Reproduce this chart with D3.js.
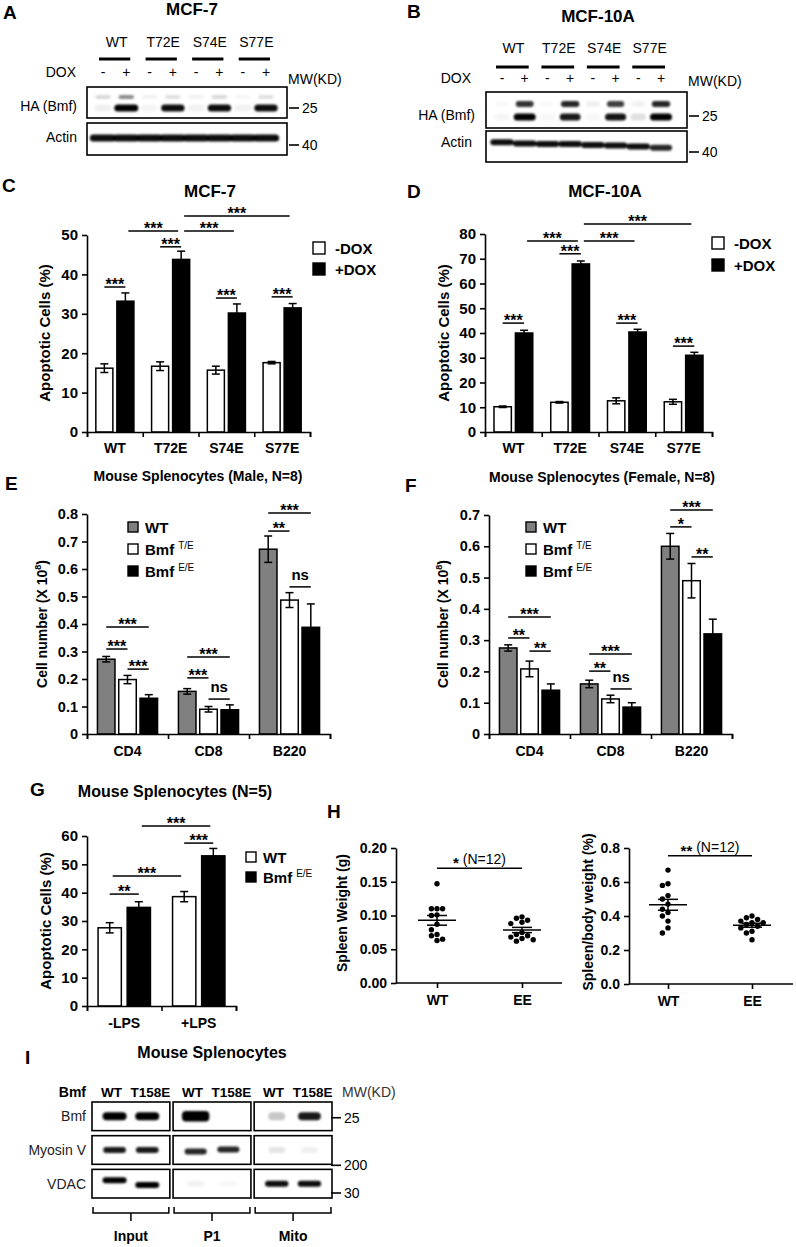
<!DOCTYPE html>
<html><head><meta charset="utf-8">
<script src="https://cdn.jsdelivr.net/npm/d3@7"></script>
<style>
body{margin:0;background:#fff}
svg{display:block}
text{font-family:"Liberation Sans",Arial,Helvetica,sans-serif}
</style>
</head><body>
<svg id="fig" width="796" height="1247"></svg>
<script>
// ================= DATA =================
// Panel A / B western blots (band intensities per lane, 0..1)
const blotGroups = ["WT","T72E","S74E","S77E"];
const doxLanes = ["-","+","-","+","-","+","-","+"];
const aHALower = [0.06,1.0,0.04,0.95,0.05,0.95,0.05,0.95];
const aHAUpper = [0.15,0.45,0.05,0.12,0.05,0.15,0.03,0.12];
const aActin   = [0.95,0.95,0.95,0.95,0.95,0.95,0.95,0.95];
const bHALower = [0.04,1.0,0.03,0.9,0.03,0.92,0.12,1.0];
const bHAUpper = [0.02,0.8,0.02,0.85,0.06,0.75,0.05,0.85];
const bActin   = [0.95,0.95,0.95,0.95,0.95,0.95,0.95,0.85];
const bActinRf = [0.36,0.40,0.42,0.42,0.45,0.47,0.50,0.54];

// Panel C (MCF-7) and D (MCF-10A) apoptosis
const doxCategories = ["WT","T72E","S74E","S77E"];
const doxSeriesNames = ["-DOX","+DOX"];
const cMinusDox = [16.2,16.7,15.7,17.6];
const cMinusDoxErr = [1.1,1.1,1.0,0.3];
const cPlusDox = [33.2,43.8,30.2,31.5];
const cPlusDoxErr = [2.1,2.1,2.3,1.1];
const cTicks = [0,10,20,30,40,50];
const cSig = [
  {a:[0,0],b:[0,1],y:36.8,t:"***"},
  {a:[1,0],b:[1,1],y:47.0,t:"***"},
  {a:[0,1],b:[1,1],y:51.0,t:"***"},
  {a:[1,1],b:[2,1],y:51.0,t:"***"},
  {a:[1,1],b:[3,1],y:54.8,t:"***"},
  {a:[2,0],b:[2,1],y:34.0,t:"***"},
  {a:[3,0],b:[3,1],y:34.3,t:"***"}
];
const dMinusDox = [10.2,12.0,12.6,12.2];
const dMinusDoxErr = [0.3,0.3,1.2,1.0];
const dPlusDox = [40.0,67.9,40.4,31.0];
const dPlusDoxErr = [1.1,1.2,1.1,1.2];
const dTicks = [0,10,20,30,40,50,60,70,80];
const dSig = [
  {a:[0,0],b:[0,1],y:44.0,t:"***"},
  {a:[1,0],b:[1,1],y:72.0,t:"***"},
  {a:[0,1],b:[1,1],y:77.2,t:"***"},
  {a:[1,1],b:[2,1],y:77.2,t:"***"},
  {a:[1,1],b:[3,1],y:84.0,t:"***"},
  {a:[2,0],b:[2,1],y:44.0,t:"***"},
  {a:[3,0],b:[3,1],y:34.7,t:"***"}
];

// Panel E / F splenocyte counts
const cellCategories = ["CD4","CD8","B220"];
const genotypeNames = ["WT","Bmf T/E","Bmf E/E"];
const eWT = [0.272,0.155,0.672];   const eWTErr = [0.010,0.010,0.048];
const eTE = [0.198,0.090,0.487];   const eTEErr = [0.015,0.010,0.027];
const eEE = [0.130,0.088,0.388];   const eEEErr = [0.013,0.018,0.085];
const eTicks = [0,0.1,0.2,0.3,0.4,0.5,0.6,0.7,0.8];
const eSig = [
  {a:[0,0],b:[0,2],y:0.389,t:"***"},
  {a:[0,0],b:[0,1],y:0.309,t:"***"},
  {a:[0,1],b:[0,2],y:0.236,t:"***"},
  {a:[1,0],b:[1,2],y:0.280,t:"***"},
  {a:[1,0],b:[1,1],y:0.204,t:"***"},
  {a:[1,1],b:[1,2],y:0.127,t:"ns"},
  {a:[2,0],b:[2,2],y:0.804,t:"***"},
  {a:[2,0],b:[2,1],y:0.738,t:"**"},
  {a:[2,1],b:[2,2],y:0.535,t:"ns"}
];
const fWT = [0.275,0.160,0.600];   const fWTErr = [0.010,0.012,0.041];
const fTE = [0.208,0.112,0.490];   const fTEErr = [0.025,0.012,0.055];
const fEE = [0.140,0.086,0.320];   const fEEErr = [0.020,0.014,0.047];
const fTicks = [0,0.1,0.2,0.3,0.4,0.5,0.6,0.7];
const fSig = [
  {a:[0,0],b:[0,2],y:0.374,t:"***"},
  {a:[0,0],b:[0,1],y:0.307,t:"**"},
  {a:[0,1],b:[0,2],y:0.265,t:"**"},
  {a:[1,0],b:[1,2],y:0.256,t:"***"},
  {a:[1,0],b:[1,1],y:0.201,t:"**"},
  {a:[1,1],b:[1,2],y:0.144,t:"ns"},
  {a:[2,0],b:[2,2],y:0.716,t:"***"},
  {a:[2,0],b:[2,1],y:0.662,t:"*"},
  {a:[2,1],b:[2,2],y:0.566,t:"**"}
];

// Panel G LPS apoptosis
const lpsCategories = ["-LPS","+LPS"];
const lpsSeriesNames = ["WT","Bmf E/E"];
const gWT = [27.6,38.6];  const gWTErr = [1.8,1.8];
const gEE = [34.8,53.0];  const gEEErr = [2.0,2.6];
const gTicks = [0,10,20,30,40,50,60];
const gSig = [
  {a:[0,1],b:[1,1],y:63.5,t:"***"},
  {a:[1,0],b:[1,1],y:57.5,t:"***"},
  {a:[0,0],b:[1,0],y:45.9,t:"***"},
  {a:[0,0],b:[0,1],y:39.5,t:"**"}
];

// Panel H spleen weights
const hGroups = ["WT","EE"];
const hSpleenWT = [0.147,0.110,0.110,0.110,0.101,0.100,0.087,0.079,0.072,0.070,0.065,0.063];
const hSpleenEE = [0.098,0.096,0.093,0.090,0.088,0.075,0.072,0.070,0.068,0.066,0.064,0.062];
const hSpleenTicks = [0,0.05,0.10,0.15,0.20];
const hRatioWT = [0.67,0.59,0.58,0.52,0.50,0.47,0.44,0.42,0.40,0.37,0.33,0.30];
const hRatioEE = [0.40,0.39,0.38,0.37,0.36,0.36,0.35,0.34,0.33,0.31,0.30,0.26];
const hRatioTicks = [0,0.2,0.4,0.6,0.8];

// Panel I fractionation blot
const iFractions = ["Input","P1","Mito"];
const iGenotypes = ["WT","T158E"];
const iRows = ["Bmf","Myosin V","VDAC"];
const iMW = ["25","200","30"];
const iBmf    = [1.0,1.0, 1.3,0.0, 0.22,0.9];
const iMyosin = [0.9,0.9, 0.85,0.85, 0.1,0.06];
const iVDAC   = [1.0,1.0, 0.05,0.03, 0.95,0.95];
const iVDACRf = [0.38,0.55, 0.5,0.5, 0.5,0.5];
const iMyosinRf = [0.5,0.5, 0.55,0.48, 0.5,0.5];

// ================= DRAWING =================
const FONT = '"Liberation Sans",Arial,sans-serif';
const svg = d3.select("#fig");
svg.append("rect").attr("width",796).attr("height",1247).attr("fill","#fff");
const defs = svg.append("defs");
defs.append("filter").attr("id","blur").attr("x","-50%").attr("y","-150%").attr("width","200%").attr("height","400%")
  .append("feGaussianBlur").attr("stdDeviation",1.2);

function txt(g,x,y,s,o={}){
  return g.append("text").attr("x",x).attr("y",y).text(s)
    .attr("font-size",o.size||14).attr("font-weight",o.bold?"bold":"normal")
    .attr("text-anchor",o.anchor||"start").attr("fill",o.fill||"#000");
}
function vtxt(g,x,y,s,o={}){
  return g.append("text").attr("transform",`translate(${x},${y}) rotate(-90)`)
    .attr("text-anchor","middle").attr("dy","0.35em")
    .attr("font-size",o.size||15).attr("font-weight","bold").text(s);
}
function box(g,x0,y0,x1,y1){
  g.append("rect").attr("x",x0).attr("y",y0).attr("width",x1-x0).attr("height",y1-y0)
    .attr("fill","#fff").attr("stroke","#000").attr("stroke-width",1.6);
}
function bandRow(g,laneX,vals,yFn,w,h){
  g.append("g").attr("filter","url(#blur)").selectAll("rect").data(vals).join("rect")
    .attr("x",(d,i)=>laneX(i)-w*Math.sqrt(Math.max(d,0.5))/2)
    .attr("width",d=>w*Math.sqrt(Math.max(d,0.5)))
    .attr("y",(d,i)=>yFn(i)-h*Math.max(1,d)/2).attr("height",d=>h*Math.max(1,d))
    .attr("rx",h/2).attr("fill","#000").attr("opacity",d=>Math.min(1,d));
}
function mwMark(g,x,y,label){
  g.append("line").attr("x1",x).attr("x2",x+10).attr("y1",y).attr("y2",y).attr("stroke","#000").attr("stroke-width",1.6);
  txt(g,x+13,y+5,label,{size:14});
}

// ---------- Panel A ----------
(function(){
  const g = svg.append("g");
  txt(g,3,19,"A",{size:19,bold:true});
  txt(g,192,15,"MCF-7",{size:17,bold:true,anchor:"middle"});
  const lane = d3.scalePoint().domain(d3.range(8)).range([103,266]);
  blotGroups.forEach((n,i)=>{
    const xa=lane(2*i), xb=lane(2*i+1);
    txt(g,(xa+xb)/2+2,47,n,{size:14,anchor:"middle"});
    g.append("line").attr("x1",xa-4).attr("x2",xb+4).attr("y1",59).attr("y2",59).attr("stroke","#000").attr("stroke-width",3);
  });
  txt(g,76,77,"DOX",{size:14,anchor:"end"});
  doxLanes.forEach((s,i)=>txt(g,lane(i),77,s,{size:14,anchor:"middle"}));
  txt(g,288,84,"MW(KD)",{size:14});
  box(g,87,87,287,118);
  bandRow(g,lane,aHAUpper,()=>97,22,4);
  bandRow(g,lane,aHALower,()=>108,24,7);
  txt(g,77,111,"HA (Bmf)",{size:14,anchor:"end"});
  mwMark(g,289,108,"25");
  box(g,87,123,287,155);
  bandRow(g,lane,aActin,()=>138,27,7);
  txt(g,77,142,"Actin",{size:14,anchor:"end"});
  mwMark(g,289,145,"40");
})();

// ---------- Panel B ----------
(function(){
  const g = svg.append("g");
  txt(g,407,18,"B",{size:19,bold:true});
  txt(g,598,22,"MCF-10A",{size:17,bold:true,anchor:"middle"});
  const lane = d3.scalePoint().domain(d3.range(8)).range([502,661]);
  blotGroups.forEach((n,i)=>{
    const xa=lane(2*i), xb=lane(2*i+1);
    txt(g,(xa+xb)/2,53,n,{size:14,anchor:"middle"});
    g.append("line").attr("x1",xa-6).attr("x2",xb+4).attr("y1",67).attr("y2",67).attr("stroke","#000").attr("stroke-width",3);
  });
  txt(g,471,83,"DOX",{size:14,anchor:"end"});
  doxLanes.forEach((s,i)=>txt(g,lane(i),83,s,{size:14,anchor:"middle"}));
  txt(g,688,86,"MW(KD)",{size:14});
  box(g,486,92,687,128);
  bandRow(g,lane,bHAUpper,()=>104,20,6);
  bandRow(g,lane,bHALower,()=>117,22,7);
  txt(g,475,120,"HA (Bmf)",{size:14,anchor:"end"});
  mwMark(g,689,116,"25");
  box(g,486,131,687,162);
  bandRow(g,lane,bActin,i=>131+31*bActinRf[i],24,6);
  txt(g,472,147,"Actin",{size:14,anchor:"end"});
  mwMark(g,689,152,"40");
})();

// ---------- Bar chart helper ----------
function barPanel(cfg){
  const g = svg.append("g");
  const y = d3.scaleLinear().domain([0,cfg.ticks[cfg.ticks.length-1]]).range(cfg.yRange);
  const x = d3.scaleBand().domain(cfg.categories).range(cfg.xRange);
  const xs = d3.scaleBand().domain(cfg.series.map(s=>s.name)).range([0,x.bandwidth()])
    .paddingInner(cfg.pin).paddingOuter(cfg.pout);
  const cx = (gi,si)=> x(cfg.categories[gi]) + xs(cfg.series[si].name) + xs.bandwidth()/2;
  cfg.series.forEach((s,si)=>{
    const sg = g.append("g");
    sg.selectAll("rect").data(s.values).join("rect")
      .attr("x",(d,i)=>x(cfg.categories[i])+xs(s.name)).attr("width",xs.bandwidth())
      .attr("y",d=>y(d)).attr("height",d=>y(0)-y(d))
      .attr("fill",s.fill).attr("stroke","#000").attr("stroke-width",1.5);
    const eg = sg.append("g").attr("stroke","#000").attr("stroke-width",1.5);
    s.values.forEach((v,i)=>{
      const xc = cx(i,si), e = s.errs[i];
      eg.append("line").attr("x1",xc).attr("x2",xc).attr("y1",y(v+e)).attr("y2",y(Math.max(0,v-e)));
      eg.append("line").attr("x1",xc-4).attr("x2",xc+4).attr("y1",y(v+e)).attr("y2",y(v+e));
      eg.append("line").attr("x1",xc-4).attr("x2",xc+4).attr("y1",y(v-e)).attr("y2",y(v-e));
    });
  });
  const tsz = cfg.tickSize||14;
  const ya = g.append("g").attr("transform",`translate(${cfg.xRange[0]},0)`)
    .call(d3.axisLeft(y).tickValues(cfg.ticks).tickFormat(cfg.fmt).tickSize(5).tickPadding(4).tickSizeOuter(0));
  const xb = d3.scaleLinear().domain([0,cfg.categories.length]).range(cfg.xRange);
  const xa = g.append("g").attr("transform",`translate(0,${y(0)})`)
    .call(d3.axisBottom(xb).ticks(cfg.categories.length).tickFormat("").tickSize(5).tickSizeOuter(5));
  const xl = g.append("g").attr("transform",`translate(0,${y(0)})`)
    .call(d3.axisBottom(x).tickSize(0).tickPadding(cfg.labPad||11));
  xl.select(".domain").remove();
  [ya,xa].forEach(a=>{a.select(".domain").attr("stroke-width",1.6); a.selectAll(".tick line").attr("stroke-width",1.6);});
  ya.selectAll("text").attr("font-size",tsz).attr("font-weight","bold").attr("font-family",FONT).attr("fill","#000");
  xl.selectAll("text").attr("font-size",14).attr("font-weight","bold").attr("font-family",FONT).attr("fill","#000");
  // significance
  const sg = g.append("g");
  cfg.sig.forEach(s=>{
    let x1 = cx(s.a[0],s.a[1]), x2 = cx(s.b[0],s.b[1]);
    if (s.a[0]!==s.b[0]) { x1 += 3; x2 -= 3; }
    const yy = y(s.y);
    sg.append("line").attr("x1",x1).attr("x2",x2).attr("y1",yy).attr("y2",yy).attr("stroke","#000").attr("stroke-width",1.5);
    if (s.t==="ns") txt(sg,(x1+x2)/2,yy-7,"ns",{size:15,bold:true,anchor:"middle"});
    else txt(sg,(x1+x2)/2,yy+3,s.t,{size:16,bold:true,anchor:"middle"});
  });
  // legend
  const lg = g.append("g");
  cfg.series.forEach((s,i)=>{
    const ly = cfg.legend.y + i*cfg.legend.dy;
    lg.append("rect").attr("x",cfg.legend.x).attr("y",ly).attr("width",cfg.legend.w).attr("height",cfg.legend.w)
      .attr("fill",s.fill).attr("stroke","#000").attr("stroke-width",1.4);
    const parts = s.name.split(" ");
    const t = txt(lg,cfg.legend.x+cfg.legend.w+cfg.legend.gap,ly+cfg.legend.w/2+5.5,parts[0],{size:cfg.legend.size||15,bold:true});
    if (parts[1]) t.append("tspan").attr("dx",4).attr("dy",-6).attr("font-size",10).attr("font-weight","normal").text(parts[1]);
  });
  return {g,x,y};
}

// ---------- Panel C ----------
(function(){
  const p = barPanel({
    categories:doxCategories,
    series:[{name:doxSeriesNames[0],values:cMinusDox,errs:cMinusDoxErr,fill:"#fff"},
            {name:doxSeriesNames[1],values:cPlusDox,errs:cPlusDoxErr,fill:"#000"}],
    ticks:cTicks, fmt:d3.format("d"), yRange:[432,235], xRange:[87,310], pin:0.19, pout:0.42,
    sig:cSig, legend:{x:313,y:242,dy:21,w:12,gap:10}, tickSize:15
  });
  txt(p.g,2,192,"C",{size:19,bold:true});
  txt(p.g,210,197,"MCF-7",{size:17,bold:true,anchor:"middle"});
  vtxt(p.g,45,333,"Apoptotic Cells (%)");
})();

// ---------- Panel D ----------
(function(){
  const p = barPanel({
    categories:doxCategories,
    series:[{name:doxSeriesNames[0],values:dMinusDox,errs:dMinusDoxErr,fill:"#fff"},
            {name:doxSeriesNames[1],values:dPlusDox,errs:dPlusDoxErr,fill:"#000"}],
    ticks:dTicks, fmt:d3.format("d"), yRange:[432,234], xRange:[485,712], pin:0.19, pout:0.42,
    sig:dSig, legend:{x:712,y:237,dy:22,w:12,gap:10}, tickSize:15
  });
  txt(p.g,407,198,"D",{size:19,bold:true});
  txt(p.g,605,197,"MCF-10A",{size:17,bold:true,anchor:"middle"});
  vtxt(p.g,444,333,"Apoptotic Cells (%)");
})();

// ---------- Panel E / F ----------
function cellLabel(g,x,y){
  const t = g.append("text").attr("transform",`translate(${x},${y}) rotate(-90)`)
    .attr("text-anchor","middle").attr("dy","0.35em").attr("font-size",14).attr("font-weight","bold");
  t.append("tspan").text("Cell number (X 10");
  t.append("tspan").attr("dy",-6).attr("font-size",9).text("8");
  t.append("tspan").attr("dy",6).text(")");
}
(function(){
  const p = barPanel({
    categories:cellCategories,
    series:[{name:genotypeNames[0],values:eWT,errs:eWTErr,fill:"#808080"},
            {name:genotypeNames[1],values:eTE,errs:eTEErr,fill:"#fff"},
            {name:genotypeNames[2],values:eEE,errs:eEEErr,fill:"#000"}],
    ticks:eTicks, fmt:d=>d===0?"0":d3.format(".1f")(d), yRange:[734,514], xRange:[87,330], pin:0.176, pout:0.49,
    sig:eSig, legend:{x:128,y:522,dy:22,w:10,gap:7,size:15}, labPad:12, tickSize:14.5
  });
  txt(p.g,5,490,"E",{size:19,bold:true});
  txt(p.g,198,481,"Mouse Splenocytes (Male, N=8)",{size:14,bold:true,anchor:"middle"});
  cellLabel(p.g,42,624);
})();
(function(){
  const p = barPanel({
    categories:cellCategories,
    series:[{name:genotypeNames[0],values:fWT,errs:fWTErr,fill:"#808080"},
            {name:genotypeNames[1],values:fTE,errs:fTEErr,fill:"#fff"},
            {name:genotypeNames[2],values:fEE,errs:fEEErr,fill:"#000"}],
    ticks:fTicks, fmt:d=>d===0?"0":d3.format(".1f")(d), yRange:[734,515], xRange:[489,732], pin:0.176, pout:0.49,
    sig:fSig, legend:{x:526,y:522,dy:22,w:10,gap:7,size:15}, labPad:12, tickSize:14.5
  });
  txt(p.g,405,492,"F",{size:19,bold:true});
  txt(p.g,602,482,"Mouse Splenocytes (Female, N=8)",{size:14,bold:true,anchor:"middle"});
  cellLabel(p.g,443,624);
})();

// ---------- Panel G ----------
(function(){
  const p = barPanel({
    categories:lpsCategories,
    series:[{name:lpsSeriesNames[0],values:gWT,errs:gWTErr,fill:"#fff"},
            {name:lpsSeriesNames[1],values:gEE,errs:gEEErr,fill:"#000"}],
    ticks:gTicks, fmt:d3.format("d"), yRange:[1006,836], xRange:[87,236], pin:0.2, pout:0.38,
    sig:gSig, legend:{x:246,y:852,dy:20,w:10,gap:7,size:15}, labPad:12, tickSize:15
  });
  txt(p.g,30,796,"G",{size:19,bold:true});
  txt(p.g,175,797,"Mouse Splenocytes (N=5)",{size:16,bold:true,anchor:"middle"});
  vtxt(p.g,46,921,"Apoptotic Cells (%)");
})();

// ---------- Panel H ----------
function scatterPanel(cfg){
  const g = svg.append("g");
  const y = d3.scaleLinear().domain([0,cfg.ticks[cfg.ticks.length-1]]).range(cfg.yRange);
  const x = d3.scalePoint().domain(hGroups).range(cfg.xPts);
  const ya = g.append("g").attr("transform",`translate(${cfg.x0},0)`)
    .call(d3.axisLeft(y).tickValues(cfg.ticks).tickFormat(cfg.fmt).tickSize(5).tickPadding(4).tickSizeOuter(0));
  const xa = g.append("g").attr("transform",`translate(0,${y(0)})`)
    .call(d3.axisBottom(x).tickSize(5).tickPadding(7).tickSizeOuter(0));
  xa.select(".domain").attr("d",`M${cfg.x0},0H${cfg.x1}`);
  [ya,xa].forEach(a=>{
    a.select(".domain").attr("stroke-width",1.6); a.selectAll(".tick line").attr("stroke-width",1.6);
    a.selectAll("text").attr("font-size",14).attr("font-weight","bold").attr("font-family",FONT).attr("fill","#000");
  });
  cfg.data.forEach((vals,gi)=>{
    const cxp = x(hGroups[gi]);
    const placed = [];
    const sorted = vals.slice().sort((a,b)=>b-a);
    sorted.forEach(v=>{
      const py = y(v);
      for (let k=0;k<20;k++){
        const off = (k%2===0?1:-1)*Math.ceil(k/2)*5.6;
        const px = cxp+off;
        if (placed.every(p=>Math.hypot(p[0]-px,p[1]-py)>=5.4)){ placed.push([px,py]); break; }
      }
    });
    g.append("g").selectAll("circle").data(placed).join("circle")
      .attr("cx",d=>d[0]).attr("cy",d=>d[1]).attr("r",2.7).attr("fill","#000");
    const m = d3.mean(vals), se = d3.deviation(vals)/Math.sqrt(vals.length);
    const lg = g.append("g").attr("stroke","#000").attr("stroke-width",1.5);
    lg.append("line").attr("x1",cxp-19).attr("x2",cxp+19).attr("y1",y(m)).attr("y2",y(m));
    lg.append("line").attr("x1",cxp).attr("x2",cxp).attr("y1",y(m+se)).attr("y2",y(m-se));
    [m+se,m-se].forEach(v=>lg.append("line").attr("x1",cxp-10).attr("x2",cxp+10).attr("y1",y(v)).attr("y2",y(v)));
  });
  const yy = y(cfg.sig.y);
  g.append("line").attr("x1",x(hGroups[0])).attr("x2",x(hGroups[1])).attr("y1",yy).attr("y2",yy).attr("stroke","#000").attr("stroke-width",1.5);
  const t = g.append("text").attr("x",(x(hGroups[0])+x(hGroups[1]))/2).attr("y",yy-4).attr("text-anchor","middle").attr("font-size",14);
  t.append("tspan").attr("font-weight","bold").attr("font-size",15).attr("dy",4).text(cfg.sig.t);
  t.append("tspan").attr("dy",-4).text(" (N=12)");
  return {g,x,y};
}
(function(){
  const p1 = scatterPanel({data:[hSpleenWT,hSpleenEE], ticks:hSpleenTicks, fmt:d3.format(".2f"),
    yRange:[983,848], x0:396, x1:562, xPts:[437,522], sig:{y:0.170,t:"*"}});
  txt(p1.g,327,818,"H",{size:19,bold:true});
  vtxt(p1.g,342,913,"Spleen Weight (g)",{size:14});
  const p2 = scatterPanel({data:[hRatioWT,hRatioEE], ticks:hRatioTicks, fmt:d3.format(".1f"),
    yRange:[984,848], x0:629, x1:793, xPts:[668,752], sig:{y:0.754,t:"**"}});
  vtxt(p2.g,588,912,"Spleen/body weight (%)",{size:14});
})();

// ---------- Panel I ----------
(function(){
  const g = svg.append("g");
  txt(g,25,1064,"I",{size:19,bold:true});
  txt(g,212,1058,"Mouse Splenocytes",{size:16,bold:true,anchor:"middle"});
  const fx = d3.scaleBand().domain(iFractions).range([92,332]).paddingInner(0.04).paddingOuter(0);
  const rowY = d3.scaleBand().domain(iRows).range([1102,1198]).paddingInner(0.15).paddingOuter(0);
  const laneX = i => { const f = iFractions[Math.floor(i/2)]; return fx(f)+fx.bandwidth()*(i%2===0?0.29:0.71); };
  const headX = i => { const f = iFractions[Math.floor(i/2)]; return fx(f)+fx.bandwidth()*(i%2===0?0.25:0.75); };
  txt(g,86,1097,"Bmf",{size:14,bold:true,anchor:"end"});
  d3.range(6).forEach(i=>txt(g,headX(i),1097,iGenotypes[i%2],{size:13.5,bold:true,anchor:"middle"}));
  txt(g,342,1097,"MW(KD)",{size:14,fill:"#333"});
  const rowData = [iBmf,iMyosin,iVDAC];
  const rowRf = [null,iMyosinRf,iVDACRf];
  const bandH = [8,6,6];
  iRows.forEach((r,ri)=>{
    const y0 = rowY(r), h = rowY.bandwidth();
    iFractions.forEach(f=>box(g,fx(f),y0,fx(f)+fx.bandwidth(),y0+h));
    bandRow(g,laneX,rowData[ri],i=>y0+h*(rowRf[ri]?rowRf[ri][i]:0.5),24,bandH[ri]);
    txt(g,86,y0+h/2+5,r,{size:14,anchor:"end",fill:"#222"});
  });
  mwMark(g,331,rowY("Bmf")+rowY.bandwidth()*0.55,iMW[0]);
  mwMark(g,331,rowY("Myosin V")+rowY.bandwidth()+1,iMW[1]);
  mwMark(g,331,rowY("VDAC")+rowY.bandwidth()-5,iMW[2]);
  iFractions.forEach(f=>{
    const a = fx(f)+1, b = fx(f)+fx.bandwidth()-1, m=(a+b)/2;
    g.append("path").attr("d",`M${a},1207V1213H${b}V1207M${m},1213V1221`)
      .attr("fill","none").attr("stroke","#000").attr("stroke-width",1.5);
    txt(g,m,1241,f,{size:14,bold:true,anchor:"middle"});
  });
})();
</script>
</body></html>
